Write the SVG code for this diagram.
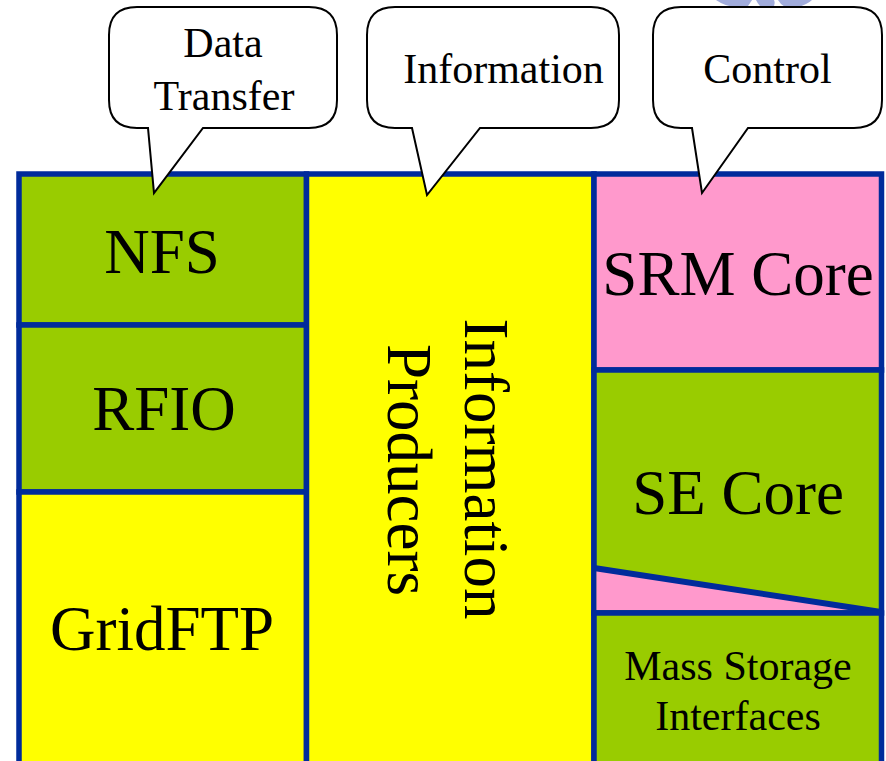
<svg xmlns="http://www.w3.org/2000/svg" width="886" height="761" viewBox="0 0 886 761">
<style>
.box{stroke:#002B9B;stroke-width:5.5}
.g{fill:#99CC00}
.y{fill:#FFFF00}
.p{fill:#FF99CC}
.t{font-family:"Liberation Serif","Times New Roman",serif;fill:#000;text-anchor:middle}
.big{font-size:63px}
.co{font-size:42px}
.ms{font-size:42px}
.call{fill:#fff;stroke:#000;stroke-width:2;stroke-linejoin:miter}
</style>
<rect width="886" height="761" fill="#fff"/>
<g id="logo" fill="#8A98D4" opacity="0.8">
<path d="M716,0 Q730,10 748,6 Q752,0 752,0 Z"/>
<path d="M756,0 Q762,12 772,10 Q776,4 774,0 Z"/>
<path d="M778,0 Q784,10 796,8 Q808,4 812,0 Z"/>
</g>
<g id="nfs">
<rect class="box g" x="19" y="174" width="287.5" height="151"/>
<text class="t big" x="162" y="273">NFS</text>
</g>
<g id="rfio">
<rect class="box g" x="19" y="325" width="287.5" height="167"/>
<text class="t big" x="164" y="430">RFIO</text>
</g>
<g id="gridftp">
<rect class="box y" x="19" y="492" width="287.5" height="280"/>
<text class="t big" x="162" y="650">GridFTP</text>
</g>
<g id="info-producers">
<rect class="box y" x="306.5" y="174" width="287.5" height="598"/>
<text class="t big" transform="translate(465,469) rotate(90)">Information</text>
<text class="t big" transform="translate(388,470) rotate(90)">Producers</text>
</g>
<g id="srm-core">
<rect class="box p" x="594" y="174" width="287.5" height="196"/>
<text class="t big" x="738" y="295">SRM Core</text>
</g>
<g id="se-core">
<rect class="box g" x="594" y="370" width="287.5" height="243"/>
<polygon class="p" points="596.5,568 596.5,610 879,610"/>
<line x1="594" y1="568" x2="881" y2="612" stroke="#002B9B" stroke-width="6"/>
<text class="t big" x="738" y="514">SE Core</text>
</g>
<g id="mass-storage">
<rect class="box g" x="594" y="613" width="287.5" height="160"/>
<text class="t ms" x="738" y="680">Mass Storage</text>
<text class="t ms" x="738" y="730">Interfaces</text>
</g>
<g id="connectors">
<g id="callout-data">
<path class="call" d="M137,7 H309 Q337,7 337,35 V100 Q337,128 309,128 H203 L154,193 L148,128 H137 Q109,128 109,100 V35 Q109,7 137,7 Z"/>
<text class="t co" x="223" y="57">Data</text>
<text class="t co" x="224" y="110">Transfer</text>
</g>
<g id="callout-info">
<path class="call" d="M395,7 H591 Q619,7 619,35 V100 Q619,128 591,128 H480 L427,195 L412,128 H395 Q367,128 367,100 V35 Q367,7 395,7 Z"/>
<text class="t co" x="503.5" y="83">Information</text>
</g>
<g id="callout-control">
<path class="call" d="M681,7 H854 Q882,7 882,35 V100 Q882,128 854,128 H748 L702,193 L692,128 H681 Q653,128 653,100 V35 Q653,7 681,7 Z"/>
<text class="t co" x="767.5" y="83">Control</text>
</g>
</g>
</svg>
